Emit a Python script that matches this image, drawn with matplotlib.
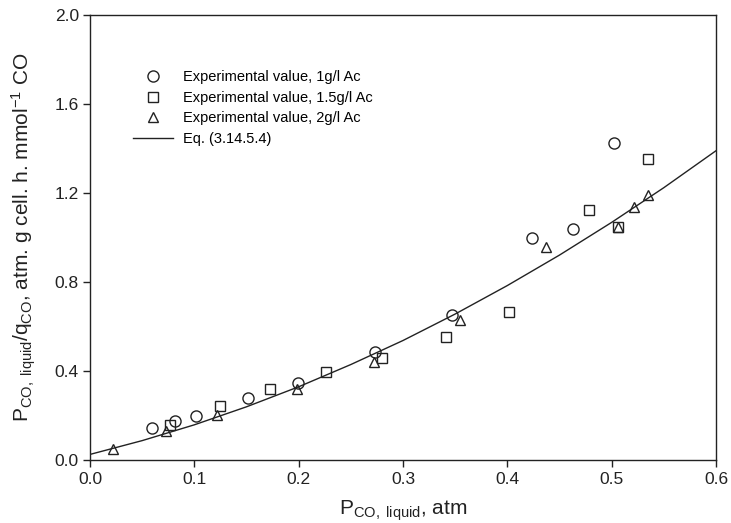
import matplotlib
matplotlib.use("Agg")
import matplotlib.pyplot as plt

plt.rcParams['font.family'] = ['Liberation Sans', 'DejaVu Sans']
plt.rcParams['mathtext.fontset'] = 'custom'
plt.rcParams['mathtext.rm'] = 'Liberation Sans'
plt.rcParams['mathtext.it'] = 'Liberation Sans'
plt.rcParams['mathtext.default'] = 'regular'

# Experimental data
x_1g = [0.059, 0.0815, 0.102, 0.151, 0.199, 0.273, 0.347, 0.424, 0.463, 0.502]
y_1g = [0.142, 0.177, 0.199, 0.279, 0.347, 0.484, 0.652, 0.996, 1.037, 1.423]

x_15g = [0.0767, 0.125, 0.173, 0.226, 0.280, 0.341, 0.402, 0.478, 0.506, 0.535]
y_15g = [0.159, 0.243, 0.320, 0.395, 0.460, 0.551, 0.667, 1.124, 1.049, 1.351]

x_2g = [0.022, 0.0726, 0.122, 0.198, 0.272, 0.355, 0.437, 0.506, 0.521, 0.535]
y_2g = [0.048, 0.130, 0.200, 0.318, 0.442, 0.629, 0.959, 1.045, 1.135, 1.190]

# Eq. (3.14.5.4) curve
x_eq = [0.0, 0.05, 0.1, 0.15, 0.2, 0.25, 0.3, 0.35, 0.4, 0.45, 0.5, 0.55, 0.6]
y_eq = [0.025, 0.087, 0.158, 0.239, 0.329, 0.429, 0.537, 0.656, 0.784, 0.921, 1.068, 1.224, 1.390]

x_ticks = [0.0, 0.1, 0.2, 0.3, 0.4, 0.5, 0.6]
y_ticks = [0.0, 0.4, 0.8, 1.2, 1.6, 2.0]

fig = plt.figure(figsize=(7.31, 5.23), dpi=100)
ax = fig.add_axes([0.1231, 0.1205, 0.8564, 0.8508])

mk = dict(linestyle='none', markerfacecolor='none', markeredgecolor='#222222', markeredgewidth=1.0)
ax.plot(x_1g, y_1g, marker='o', markersize=8, label='Experimental value, 1g/l Ac', **mk)
ax.plot(x_15g, y_15g, marker='s', markersize=6.8, label='Experimental value, 1.5g/l Ac', **mk)
ax.plot(x_2g, y_2g, marker='^', markersize=7.5, label='Experimental value, 2g/l Ac', **mk)
ax.plot(x_eq, y_eq, color='#222222', linewidth=1.0, label='Eq. (3.14.5.4)')

ax.set_xlim(0, 0.6)
ax.set_ylim(0, 2.0)
ax.set_xticks(x_ticks)
ax.set_yticks(y_ticks)
ax.set_xticklabels([f"{v:.1f}" for v in x_ticks])
ax.set_yticklabels([f"{v:.1f}" for v in y_ticks])
ax.tick_params(direction='out', length=5, width=1, labelsize=12.5, colors='#222222', pad=3)
ax.tick_params(axis='x', pad=4)
for s in ax.spines.values():
    s.set_linewidth(1.0)
    s.set_color('#222222')

ax.set_xlabel(r'$P_{CO,\ liquid}$, atm', fontsize=15, color='#222222', labelpad=8)
ax.set_ylabel(r'$P_{CO,\ liquid}/q_{CO}$, atm. g cell. h. mmol$^{-1}$ CO', fontsize=15,
              color='#222222', labelpad=12)

ax.legend(loc='upper left', bbox_to_anchor=(0.0687, 0.876), frameon=False, fontsize=10.5,
          handlelength=2.74, handletextpad=0.68, labelspacing=0.45, borderaxespad=0, borderpad=0)

fig.savefig('out.png', dpi=100)
